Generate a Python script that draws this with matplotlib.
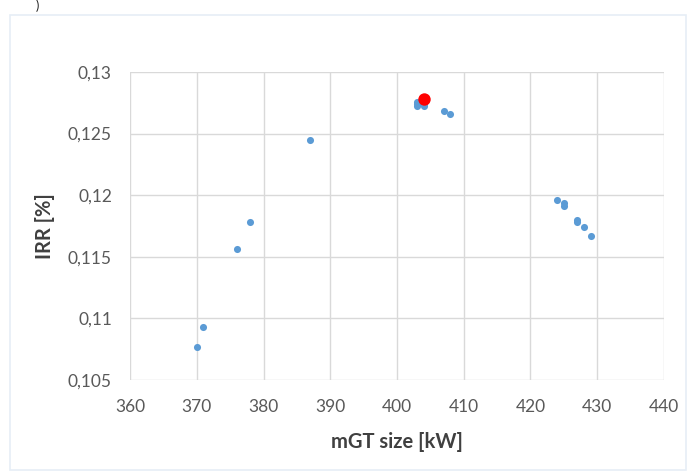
import numpy as np
import matplotlib.pyplot as plt
from matplotlib.ticker import FuncFormatter

plt.rcParams['font.family'] = ['Lato', 'DejaVu Sans']

# mGT size [kW] vs IRR
size_kw = [370, 371, 376, 378, 387,
           403, 403, 403, 403.3, 404, 404,
           407, 408,
           424, 425, 425, 427, 427, 428, 429]
irr = [0.1077, 0.1093, 0.1156, 0.1178, 0.1245,
       0.1276, 0.1274, 0.1272, 0.1275, 0.1274, 0.1272,
       0.1268, 0.1266,
       0.1196, 0.1194, 0.1191, 0.1180, 0.1178, 0.1174, 0.1167]

# best configuration
best_kw = [404]
best_irr = [0.1278]

grid_col = '#d9d9d9'
txt_col = '#595959'
lab_col = '#404040'

fig = plt.figure(figsize=(6.92, 4.72), dpi=100)
ax = fig.add_axes([0.1879, 0.1949, 0.7716, 0.6526])

ax.scatter(size_kw, irr, s=26, color='#5b9bd5', zorder=3, linewidths=0)
ax.scatter(best_kw, best_irr, s=80, color='#ff0000', zorder=4, linewidths=0)

ax.set_xlim(360, 440)
ax.set_ylim(0.105, 0.13)
ax.set_xticks(np.arange(360, 441, 10))
ax.set_yticks([0.105, 0.11, 0.115, 0.12, 0.125, 0.13])
ax.yaxis.set_major_formatter(FuncFormatter(lambda v, p: ('%g' % round(v, 4)).replace('.', ',')))
ax.grid(True, color=grid_col, linewidth=1)
ax.set_axisbelow(True)
for s in ax.spines.values():
    s.set_visible(False)
ax.tick_params(length=0, labelsize=12.5, labelcolor=txt_col)
ax.tick_params(axis='x', pad=14)
ax.tick_params(axis='y', pad=13)

ax.set_xlabel('mGT size [kW]', fontsize=14.5, fontweight='bold', color=lab_col, labelpad=12)
ax.set_ylabel('IRR [%]', fontsize=14.5, fontweight='bold', color=lab_col, labelpad=9)

# chart frame
fig.add_artist(plt.Rectangle((10/692, 2/472), 676/692, 455/472, transform=fig.transFigure,
                             fill=False, edgecolor='#e6eef6', linewidth=1.2))
fig.text(36/692, 1 - 6/472, ')', fontsize=9, color='#222222', va='center', ha='left')

plt.savefig('out.png', dpi=100)
plt.close()
